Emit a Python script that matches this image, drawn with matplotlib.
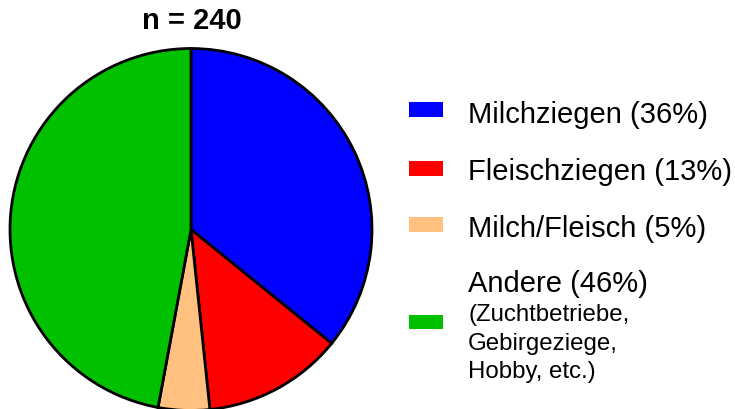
import matplotlib.pyplot as plt
from matplotlib.patches import Rectangle

plt.rcParams["font.family"] = ["Liberation Sans", "DejaVu Sans"]

# Anzahl Betriebe je Kategorie (n = 240), aus dem Bild geschaetzt
kategorien = ["Milchziegen (36%)", "Fleischziegen (13%)", "Milch/Fleisch (5%)", "Andere (46%)"]
anzahl = [86, 30, 11, 113]
farben = ["#0000ff", "#ff0000", "#ffc080", "#00c000"]
zusatz = ["(Zuchtbetriebe,", "Gebirgeziege,", "Hobby, etc.)"]
titel = "n = 240"

W, H = 735, 410
fig = plt.figure(figsize=(W / 100, H / 100), dpi=100)

# Kreis: Mitte bei (191, 230.5) px, Radius 181 px
r = 181
lim = 1.05
cx, cy = 191, 230.5
ax = fig.add_axes([(cx - lim * r) / W, (H - cy - lim * r) / H, 2 * lim * r / W, 2 * lim * r / H])
ax.pie(anzahl, colors=farben, startangle=90, counterclock=False,
       wedgeprops=dict(edgecolor="black", linewidth=2.0))
ax.set_xlim(-lim, lim)
ax.set_ylim(-lim, lim)
ax.axis("off")

fig.text(192 / W, 1 - 29 / H, titel, ha="center", va="baseline",
         fontsize=21, fontweight="bold")

# Legende von Hand
def px(x, y):
    return x / W, 1 - y / H

patch_mitte = [110.5, 169.7, 225.5, 323]
text_basis = [122.7, 180.5, 236.7, 291.7]
for lab, col, ym, yb in zip(kategorien, farben, patch_mitte, text_basis):
    x0, y0 = px(409, ym + 7.2)
    fig.add_artist(Rectangle((x0, y0), 34 / W, 14.5 / H, transform=fig.transFigure,
                             facecolor=col, edgecolor="none"))
    fig.text(*px(468, yb), lab, ha="left", va="baseline", fontsize=21)

for i, zeile in enumerate(zusatz):
    fig.text(*px(468, 321.5 + i * 28.5), zeile, ha="left", va="baseline", fontsize=17.3)

fig.savefig("out.png", dpi=100)
